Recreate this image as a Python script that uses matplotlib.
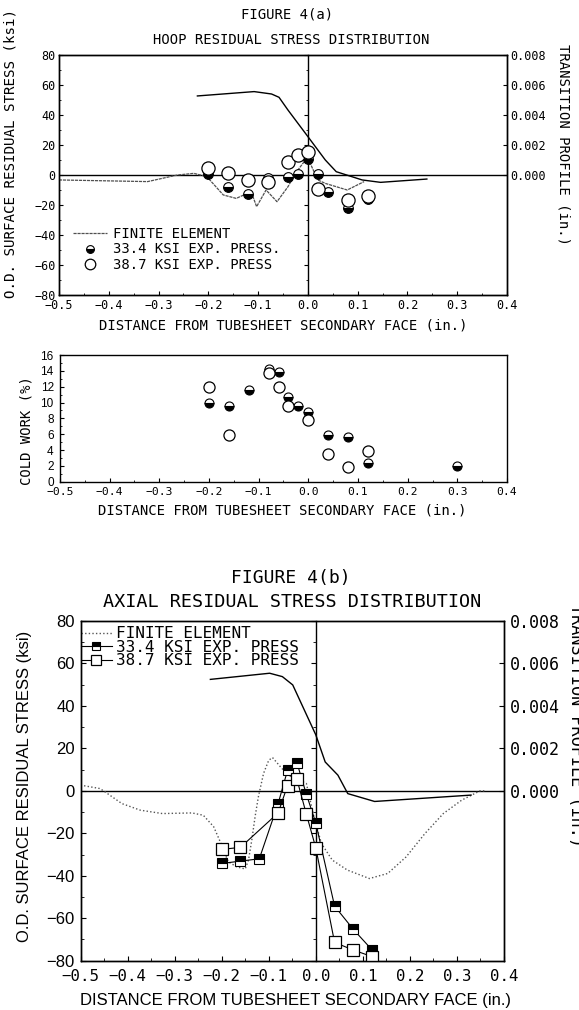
import matplotlib
matplotlib.use('Agg')
import matplotlib.pyplot as plt
from matplotlib.ticker import MultipleLocator, FixedLocator, FuncFormatter, NullFormatter

MONO = 'DejaVu Sans Mono'
SANS = 'Liberation Sans'

# ---------------- FIGURE 4(a): hoop residual stress ----------------
hoop_fe_x = [-0.5, -0.322, -0.262, -0.229, -0.203, -0.17, -0.144, -0.114, -0.103,
             -0.084, -0.062, -0.04, -0.025, -0.01, 0.0, 0.02, 0.035, 0.079, 0.113]
hoop_fe_y = [-3.3, -4.4, 0.0, 1.1, -1.1, -13.3, -15.6, -11.1, -21.1,
             -10.0, -17.8, -7.8, 1.1, 7.8, 11.1, -3.3, -5.6, -10.0, -4.4]

hoop_prof_x = [-0.222, -0.108, -0.073, -0.058, -0.04, 0.0, 0.035, 0.057, 0.109, 0.146, 0.239]
hoop_prof_y = [0.00527, 0.00556, 0.0054, 0.00518, 0.00433, 0.00256, 0.0010, 0.00022,
               -0.00033, -0.00049, -0.00027]

hoop33_x = [-0.2, -0.16, -0.12, -0.08, -0.04, -0.02, 0.0, 0.02, 0.04, 0.08, 0.12]
hoop33_y = [0.8, -8.3, -12.5, -2.0, -1.3, 0.9, 10.5, 0.9, -11.3, -21.8, -16.0]
hoop38_x = [-0.2, -0.16, -0.12, -0.08, -0.04, -0.02, 0.0, 0.02, 0.08, 0.12]
hoop38_y = [4.7, 1.1, -3.5, -4.5, 8.4, 13.3, 15.3, -9.5, -16.7, -13.8]

# ---------------- Cold work ----------------
cw33_x = [-0.2, -0.16, -0.12, -0.08, -0.06, -0.04, -0.02, 0.0, 0.04, 0.08, 0.12, 0.3]
cw33_y = [9.9, 9.5, 11.6, 14.2, 13.9, 10.7, 9.5, 8.8, 5.9, 5.6, 2.4, 2.0]
cw38_x = [-0.2, -0.16, -0.08, -0.06, -0.04, 0.0, 0.04, 0.08, 0.12]
cw38_y = [11.9, 5.9, 13.7, 11.9, 9.6, 7.8, 3.5, 1.8, 3.9]

# ---------------- FIGURE 4(b): axial residual stress ----------------
ax_fe_x = [-0.5, -0.459, -0.451, -0.412, -0.373, -0.326, -0.263, -0.239, -0.217, -0.203,
           -0.186, -0.168, -0.15, -0.143, -0.136, -0.129, -0.122, -0.111, -0.1, -0.092,
           -0.075, -0.059, -0.02, -0.004, 0.012, 0.035, 0.067, 0.114, 0.153, 0.192,
           0.232, 0.271, 0.31, 0.349, 0.36]
ax_fe_y = [2.7, 1.1, 0.0, -6.0, -9.1, -10.7, -10.4, -11.5, -16.9, -24.0,
           -33.4, -35.8, -36.8, -32.6, -23.2, -12.2, -2.8, 8.2, 14.4, 15.7,
           11.3, 7.4, 3.5, -12.2, -24.8, -32.6, -37.3, -41.3, -38.9, -31.1,
           -20.1, -10.7, -4.4, 0.0, 0.0]

ax_prof_x = [-0.224, -0.098, -0.071, -0.049, 0.0, 0.02, 0.047, 0.068, 0.125, 0.33]
ax_prof_y = [0.00525, 0.00554, 0.00538, 0.00499, 0.00264, 0.00136, 0.00074, -0.00013,
             -0.00050, -0.00020]

ax33_x = [-0.2, -0.16, -0.12, -0.08, -0.06, -0.04, -0.02, 0.0, 0.04, 0.08, 0.12]
ax33_y = [-34.2, -33.1, -32.0, -6.0, 9.7, 13.2, -1.6, -15.1, -54.3, -65.3, -75.0]
ax38_x = [-0.2, -0.16, -0.08, -0.06, -0.04, -0.02, 0.0, 0.04, 0.08, 0.12]
ax38_y = [-27.6, -26.6, -10.4, 2.5, 5.4, -11.0, -26.8, -71.4, -75.0, -78.1]

x_ticks = [-0.5, -0.4, -0.3, -0.2, -0.1, 0.0, 0.1, 0.2, 0.3, 0.4]
prof_ticks = [0.0, 0.002, 0.004, 0.006, 0.008]
XMIN, XMAX = -0.5, 0.4

W, H = 579, 1010
fig = plt.figure(figsize=(W / 100, H / 100), dpi=100)


def rect(l, r, t, b):
    return [l / W, 1 - b / H, (r - l) / W, (b - t) / H]


def fx(p):
    return p / W


def fy(p):
    return 1 - p / H


def xfmt(v, _):
    v = round(v, 2)
    if abs(v) < 1e-9:
        v = 0.0
    return f"{v:.1f}".replace('-', '\u2212')


def style_axes(ax, lw=1.0):
    for s in ax.spines.values():
        s.set_linewidth(lw)
        s.set_color('black')


def zero_axis(ax, major, minor, length):
    # tick marks carried by the vertical line at x = 0
    loc = (0 - XMIN) / (XMAX - XMIN)
    sec = ax.secondary_yaxis(loc)
    sec.yaxis.set_major_locator(MultipleLocator(major))
    sec.yaxis.set_minor_locator(MultipleLocator(minor))
    sec.yaxis.set_major_formatter(NullFormatter())
    sec.tick_params(which='both', direction='in', labelleft=False, labelright=False)
    sec.tick_params(which='major', length=length)
    sec.tick_params(which='minor', length=length * 0.6)
    for s in sec.spines.values():
        s.set_linewidth(1.0)
    return sec


# ======== top axes ========
ax1 = fig.add_axes(rect(59, 507, 55, 295))
ax1.set_xlim(XMIN, XMAX)
ax1.set_ylim(-80, 80)
ax1.xaxis.set_major_locator(FixedLocator(x_ticks))
ax1.xaxis.set_major_formatter(FuncFormatter(xfmt))
ax1.xaxis.set_minor_locator(MultipleLocator(0.05))
ax1.yaxis.set_major_locator(MultipleLocator(20))
ax1.yaxis.set_minor_locator(MultipleLocator(10))
ax1.tick_params(which='both', direction='in', top=False, right=False,
                labelfontfamily=MONO, labelsize=8.5)
ax1.tick_params(which='major', length=3)
ax1.tick_params(which='minor', length=1.6)
ax1.tick_params(axis='x', pad=3)
ax1.tick_params(axis='y', pad=2.5)
style_axes(ax1)
ax1.axhline(0, color='black', lw=1.0, zorder=1)
zero_axis(ax1, 20, 10, 3)
fe1, = ax1.plot(hoop_fe_x, hoop_fe_y, color='#505050', lw=0.9, ls=(0, (2.5, 0.7)), zorder=2)
m33, = ax1.plot(hoop33_x, hoop33_y, ls='none', marker='o', ms=7, mfc='black',
                mfcalt='white', fillstyle='bottom', mec='black', mew=0.8, zorder=4)
m38, = ax1.plot(hoop38_x, hoop38_y, ls='none', marker='o', ms=9.5, mfc='white',
                mec='black', mew=0.9, zorder=5)
ax1.legend([fe1, m33, m38],
           ['FINITE ELEMENT', '33.4 KSI EXP. PRESS.', '38.7 KSI EXP. PRESS'],
           loc='center left', bbox_to_anchor=(0.031, 0.19), frameon=False,
           prop={'family': MONO, 'size': 10}, handlelength=2.45, handletextpad=0.45,
           labelspacing=0.1, borderpad=0, borderaxespad=0, markerscale=0.8)

ax1r = ax1.twinx()
ax1r.set_ylim(-0.008, 0.008)
ax1r.yaxis.set_major_locator(FixedLocator(prof_ticks))
ax1r.yaxis.set_major_formatter(FuncFormatter(lambda v, _: f"{v:.3f}"))
ax1r.tick_params(direction='in', length=3, labelfontfamily=MONO, labelsize=8.5, pad=2.5)
style_axes(ax1r)
ax1r.plot(hoop_prof_x, hoop_prof_y, color='black', lw=1.0, zorder=3)

fig.text(fx(287), fy(15), 'FIGURE 4(a)', ha='center', va='center', family=MONO, size=10)
fig.text(fx(291), fy(40), 'HOOP RESIDUAL STRESS DISTRIBUTION', ha='center', va='center',
         family=MONO, size=10)
fig.text(fx(11), fy(154), 'O.D. SURFACE RESIDUAL STRESS (ksi)', rotation=90,
         ha='center', va='center', family=MONO, size=10.2)
fig.text(fx(563), fy(144), 'TRANSITION PROFILE (in.)', rotation=-90,
         ha='center', va='center', family=MONO, size=10)
fig.text(fx(283), fy(325), 'DISTANCE FROM TUBESHEET SECONDARY FACE (in.)',
         ha='center', va='center', family=MONO, size=10)

# ======== middle axes ========
ax2 = fig.add_axes(rect(60, 507, 355, 481.7))
ax2.set_xlim(XMIN, XMAX)
ax2.set_ylim(0, 16)
ax2.xaxis.set_major_locator(FixedLocator(x_ticks))
ax2.xaxis.set_major_formatter(FuncFormatter(xfmt))
ax2.xaxis.set_minor_locator(MultipleLocator(0.05))
ax2.yaxis.set_major_locator(MultipleLocator(2))
ax2.yaxis.set_minor_locator(MultipleLocator(1))
ax2.tick_params(which='both', direction='in', top=False, right=False)
ax2.tick_params(which='major', length=3)
ax2.tick_params(which='minor', length=1.6)
ax2.tick_params(axis='x', labelfontfamily=MONO, labelsize=8.2, pad=3.5)
ax2.tick_params(axis='y', labelfontfamily=SANS, labelsize=8.5, pad=4.5)
style_axes(ax2)
ax2.plot(cw33_x, cw33_y, ls='none', marker='o', ms=6.5, mfc='black', mfcalt='white',
         fillstyle='bottom', mec='black', mew=0.8, zorder=4)
ax2.plot(cw38_x, cw38_y, ls='none', marker='o', ms=8, mfc='white', mec='black',
         mew=0.9, zorder=5)
fig.text(fx(26.7), fy(431), 'COLD WORK (%)', rotation=90, ha='center', va='center',
         family=MONO, size=10)
fig.text(fx(282), fy(510), 'DISTANCE FROM TUBESHEET SECONDARY FACE (in.)',
         ha='center', va='center', family=MONO, size=10)

# ======== bottom axes ========
ax3 = fig.add_axes(rect(80.5, 504, 621, 960.7))
ax3.set_xlim(XMIN, XMAX)
ax3.set_ylim(-80, 80)
ax3.xaxis.set_major_locator(FixedLocator(x_ticks))
ax3.xaxis.set_major_formatter(FuncFormatter(xfmt))
ax3.xaxis.set_minor_locator(MultipleLocator(0.05))
ax3.yaxis.set_major_locator(MultipleLocator(20))
ax3.yaxis.set_minor_locator(MultipleLocator(10))
ax3.tick_params(which='both', direction='in', top=False, right=False)
ax3.tick_params(which='major', length=3.5)
ax3.tick_params(which='minor', length=2)
ax3.tick_params(axis='x', labelfontfamily=MONO, labelsize=11.3, pad=6)
ax3.tick_params(axis='y', labelfontfamily=SANS, labelsize=12, pad=4)
style_axes(ax3)
ax3.axhline(0, color='black', lw=1.0, zorder=1)
zero_axis(ax3, 20, 10, 3.5)
fe3, = ax3.plot(ax_fe_x, ax_fe_y, color='#555555', lw=1.0, ls=(0, (1, 1.6)), zorder=2)
l33, = ax3.plot(ax33_x, ax33_y, color='black', lw=0.8, marker='s', ms=7, mfc='black',
                mfcalt='white', fillstyle='top', mec='black', mew=0.8, zorder=4)
l38, = ax3.plot(ax38_x, ax38_y, color='black', lw=0.8, marker='s', ms=8.7, mfc='white',
                mec='black', mew=0.9, zorder=5)
ax3.legend([fe3, l33, l38],
           ['FINITE ELEMENT', '33.4 KSI EXP. PRESS', '38.7 KSI EXP. PRESS'],
           loc='center left', bbox_to_anchor=(0.0, 0.9226), frameon=False,
           prop={'family': MONO, 'size': 11.5}, handlelength=2.0, handletextpad=0.25,
           labelspacing=-0.1, borderpad=0, borderaxespad=0, markerscale=0.75)

ax3r = ax3.twinx()
ax3r.set_ylim(-0.008, 0.008)
ax3r.yaxis.set_major_locator(FixedLocator(prof_ticks))
ax3r.yaxis.set_major_formatter(FuncFormatter(lambda v, _: f"{v:.3f}"))
ax3r.tick_params(direction='in', length=3.5, labelfontfamily=MONO, labelsize=12, pad=4)
style_axes(ax3r)
ax3r.plot(ax_prof_x, ax_prof_y, color='black', lw=1.0, zorder=3)

fig.text(fx(291), fy(578), 'FIGURE 4(b)', ha='center', va='center', family=MONO, size=13)
fig.text(fx(292.6), fy(601.7), 'AXIAL RESIDUAL STRESS DISTRIBUTION', ha='center',
         va='center', family=MONO, size=13.3)
fig.text(fx(25), fy(786), 'O.D. SURFACE RESIDUAL STRESS (ksi)', rotation=90,
         ha='center', va='center', family=SANS, size=12)
fig.text(fx(295), fy(1000), 'DISTANCE FROM TUBESHEET SECONDARY FACE (in.)',
         ha='center', va='center', family=SANS, size=12)
fig.text(fx(576), fy(725), 'TRANSITION PROFILE (in.)', rotation=-90,
         ha='center', va='center', family=MONO, size=12.2)

fig.savefig('out.png', dpi=100)
